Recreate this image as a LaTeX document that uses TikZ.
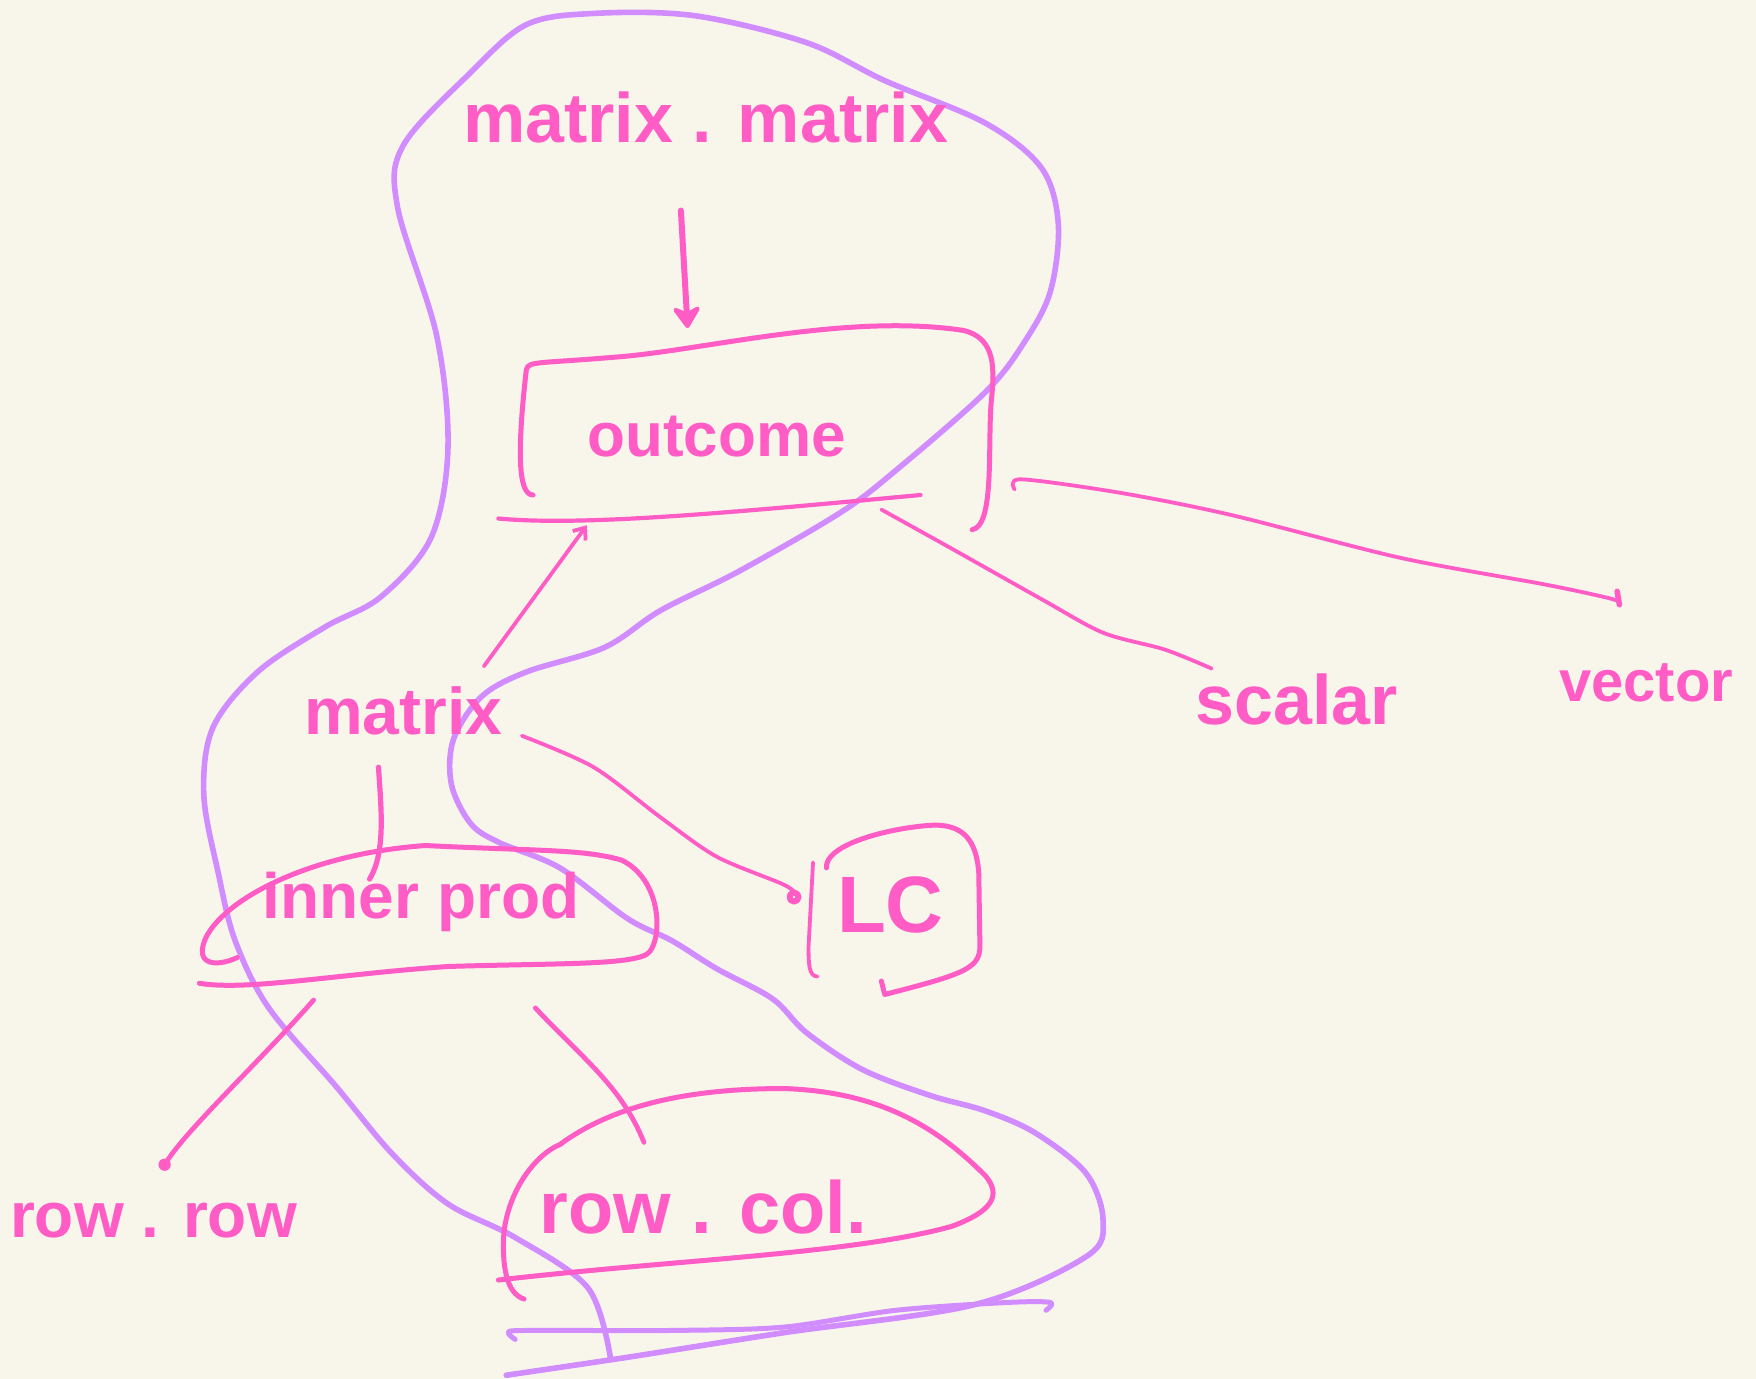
\documentclass[tikz,border=0pt]{standalone}
\usepackage{fontspec}
\setmainfont{Liberation Sans}
\usetikzlibrary{arrows.meta}
\definecolor{bg}{HTML}{F8F6EA}
\definecolor{pk}{HTML}{FF5CC6}
\definecolor{pu}{HTML}{D18DFF}
\newcommand{\fsz}[1]{\fontsize{#1}{#1}\selectfont\bfseries}
\begin{document}
\begin{tikzpicture}[x=0.56pt,y=-0.56pt,
  lbl/.style={text=pk,inner sep=0pt},
  box/.style={draw=pk,line width=2.5pt,line cap=round,line join=round},
  con/.style={draw=pk,line width=1.9pt,line cap=round,line join=round},
  lasso/.style={draw=pu,line width=2.8pt,line cap=round,line join=round}]
\fill[bg] (0,0) rectangle (1568,1231);
\useasboundingbox (0,0) rectangle (1568,1231);

% purple lasso
\draw[lasso] plot[smooth,tension=0.55] coordinates {(545,1212) (525,1150) (460,1105) (400,1075) (350,1030) (300,970) (240,900) (210,840) (195,780) (182,710) (190,650) (230,600) (290,560) (340,533) (385,480) (400,400) (390,300) (355,185) (360,130) (420,65) (470,22) (530,12) (620,14) (720,38) (790,72) (880,110) (930,150) (945,200) (938,260) (915,305) (880,350) (800,420) (750,458) (660,510) (590,545) (540,578) (470,600) (430,622) (405,660) (403,700) (420,735) (445,752) (500,775) (560,820) (600,840) (640,865) (690,892) (720,922) (770,955) (830,978) (880,992) (925,1012) (970,1048) (985,1090) (970,1122) (870,1165) (700,1190) (560,1212) (452,1228)};
\draw[lasso,line width=2.5pt] plot[smooth,tension=0.5] coordinates {(460,1196) (454,1190) (470,1188) (600,1188) (700,1185) (800,1170) (900,1163) (938,1163) (934,1170)};

% labels
\node[lbl,font=\fsz{35}] (mm) at (630,105) {matrix . matrix};
\node[lbl,font=\fsz{31}] (out) at (640,390) {outcome};
\node[lbl,font=\fsz{33}] (mat) at (360,635) {matrix};
\node[lbl,font=\fsz{35}] (sc) at (1158,625) {scalar};
\node[lbl,font=\fsz{29}] (vec) at (1470,610) {vector};
\node[lbl,font=\fsz{40}] (lc) at (795,808) {LC};
\node[lbl,font=\fsz{32}] (ip) at (376,805) {inner prod};
\node[lbl,font=\fsz{32}] (rr) at (137,1090) {row . row};
\node[lbl,font=\fsz{37}] (rc) at (628,1078) {row . col.};

% boxes
\draw[box] (476,442) .. controls (462,442) and (462,400) .. (470,330)
  .. controls (472,322) and (480,325) .. (560,318)
  .. controls (640,310) and (760,280) .. (860,295)
  .. controls (890,302) and (888,330) .. (885,360)
  .. controls (882,400) and (888,470) .. (868,473);
\draw[box,line width=2.1pt] (445,463) .. controls (520,470) and (650,458) .. (822,442);

\draw[box,line width=1.9pt] (730,872) .. controls (722,872) and (722,860) .. (722,845) -- (726,770);
\draw[box] (738,775) .. controls (736,755) and (790,740) .. (830,737)
  .. controls (860,735) and (872,750) .. (874,780) -- (875,845)
  .. controls (875,865) and (860,870) .. (790,888) -- (787,876);

\draw[box] (212,855) .. controls (190,865) and (172,860) .. (185,835)
  .. controls (205,800) and (280,762) .. (380,755)
  .. controls (480,760) and (520,758) .. (555,768)
  .. controls (590,785) and (592,835) .. (580,850)
  .. controls (570,862) and (500,860) .. (400,863)
  .. controls (300,870) and (220,885) .. (178,878);

\draw[box] (468,1160) .. controls (452,1155) and (448,1130) .. (450,1100)
  .. controls (455,1060) and (480,1030) .. (500,1022)
  .. controls (550,985) and (620,972) .. (700,972)
  .. controls (790,975) and (840,1010) .. (880,1050)
  .. controls (895,1068) and (885,1082) .. (850,1095)
  .. controls (760,1120) and (600,1125) .. (445,1143);

% connectors
\coordinate (a1) at (608,188); \coordinate (a2) at (614,293);
\draw[con,line width=3pt,-{Stealth[length=13pt,width=17pt,round]}] (a1) -- (a2);

\coordinate (m1) at (432,595); \coordinate (o1) at (524,469);
\draw[con,-{Straight Barb[length=5pt,width=8pt]}] (m1) -- (o1);

\coordinate (o2) at (787,455); \coordinate (s1) at (1082,597);
\draw[con] plot[smooth,tension=0.5] coordinates {(o2) (850,490) (930,535) (985,565) (1040,580) (s1)};

\coordinate (o3) at (906,437); \coordinate (v1) at (1446,540);
\draw[con] plot[smooth,tension=0.5] coordinates {(o3) (912,428) (1000,440) (1100,460) (1250,498) (1380,522) (1440,535) (v1)};
\draw[con,line width=2.8pt] (v1) -- (1444,528);

\coordinate (m2) at (466,657); \coordinate (l1) at (712,800);
\draw[con] plot[smooth,tension=0.5] coordinates {(m2) (530,685) (590,730) (640,765) (700,790) (l1)};
\draw[con,line width=3pt] (709,801) circle[radius=4];

\coordinate (m3) at (338,685); \coordinate (i1) at (330,785);
\draw[con,line width=2.6pt] (m3) .. controls (340,720) and (345,760) .. (i1);

\coordinate (i2) at (280,893); \coordinate (r1) at (147,1040);
\draw[con,line width=2.4pt] (i2) .. controls (230,950) and (165,1010) .. (r1);
\fill[pk] (r1) circle[radius=5.5];

\coordinate (i3) at (478,900); \coordinate (r2) at (575,1020);
\draw[con,line width=2.4pt] (i3) .. controls (520,945) and (555,970) .. (r2);

\end{tikzpicture}
\end{document}
